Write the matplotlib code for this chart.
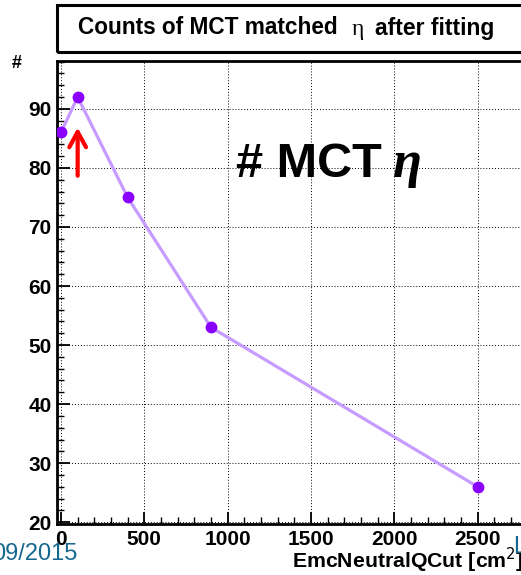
import matplotlib.pyplot as plt
from matplotlib.patches import Rectangle
from matplotlib.ticker import MultipleLocator

# Q cut scan: counts of MC-truth matched eta after the fit
qcut = [0, 100, 400, 900, 2500]
counts = [86, 92, 75, 53, 26]

W, H = 521, 575
fig = plt.figure(figsize=(W / 100, H / 100), dpi=100)
plt.rcParams['font.family'] = ['Liberation Sans', 'DejaVu Sans']


def fx(px):
    return px / W


def fy(py):
    return 1 - py / H


# axes frame runs off the right edge of the canvas
ax = fig.add_axes([fx(57), fy(524), fx(570) - fx(57), fy(61) - fy(524)])
ax.plot(qcut, counts, color="#c79bff", lw=2.3, zorder=3)
ax.plot(qcut, counts, "o", color="#8a00ff", ms=7.5, zorder=4, mec="#8a00ff")

ax.set_xlim(-24, (570 - 61) * 6)
ax.set_ylim(19.7, 98.1)
ax.xaxis.set_major_locator(MultipleLocator(500))
ax.xaxis.set_minor_locator(MultipleLocator(100))
ax.yaxis.set_major_locator(MultipleLocator(10))
ax.yaxis.set_minor_locator(MultipleLocator(2))
ax.tick_params(which="both", direction="in", top=False, right=False, color="black")
ax.tick_params(which="major", length=9, width=1.3, labelsize=15, pad=4)
ax.tick_params(which="minor", length=5, width=1.0)
for lab in ax.get_xticklabels() + ax.get_yticklabels():
    lab.set_fontweight("bold")
ax.grid(True, which="major", color="black", ls=(0, (1, 2)), lw=0.7)
for sp in ax.spines.values():
    sp.set_linewidth(2)

# red arrow pointing at the maximum
ax.annotate("", xy=(100, 87.3), xytext=(100, 78.2),
            arrowprops=dict(arrowstyle="->,head_length=1.1,head_width=0.6",
                            color="red", lw=3), zorder=5)

# title box
fig.add_artist(Rectangle((fx(57), fy(52)), 1.0, fy(5) - fy(52),
                         transform=fig.transFigure, fill=False,
                         ec="black", lw=2.2))
fig.text(fx(78), fy(28), "Counts of MCT matched", fontsize=16.3, fontweight="bold",
         ha="left", va="center")
fig.text(fx(352), fy(29), "η", fontsize=17, family="Liberation Serif",
         ha="left", va="center")
fig.text(fx(375), fy(28), "after fitting", fontsize=16.5, fontweight="bold",
         ha="left", va="center")

fig.text(fx(12), fy(68), "#", fontsize=13, fontweight="bold", ha="left", va="baseline")

fig.text(fx(236), fy(177), "# MCT", fontsize=35, fontweight="bold",
         ha="left", va="baseline")
fig.text(fx(393), fy(177), "η", fontsize=38, fontweight="bold", fontstyle="italic",
         family="Liberation Serif", ha="left", va="baseline")

fig.text(fx(292), fy(568), "EmcNeutralQCut [cm$^{2}$]", fontsize=15.3,
         fontweight="bold", ha="left", va="baseline")
fig.text(fx(-8), fy(560), "09/2015", fontsize=17, color="#17688f",
         ha="left", va="baseline")
fig.text(fx(513), fy(553), "L", fontsize=17, color="#17688f",
         ha="left", va="baseline")

fig.savefig("out.png", dpi=100)
